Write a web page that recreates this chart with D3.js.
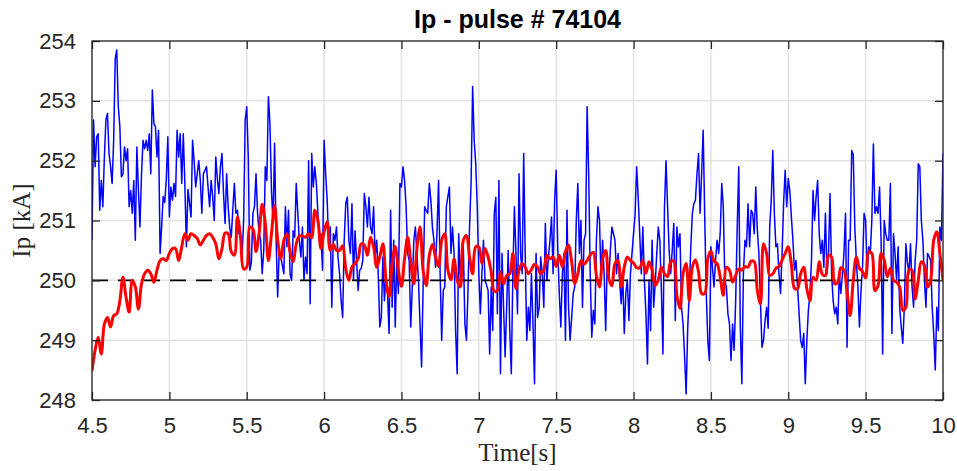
<!DOCTYPE html>
<html>
<head>
<meta charset="utf-8">
<script src="https://cdn.jsdelivr.net/npm/d3@7"></script>
<style>
  body { margin: 0; background: #ffffff; }
  #chart svg { display: block; }
</style>
</head>
<body>
<div id="chart"></div>
<script>
// Ip - pulse # 74104 : measured plasma current vs filtered current

// sampling of both traces (s)
var tStart = 4.5;
var blueStep = 0.01;
var redStep = 0.02;

// measured Ip [kA] (blue), one value every 10 ms
var ipMeasured = [
  // 4.50 - 5.11
  250.67, 252.68, 251.9, 252.4, 252.45, 251.17, 251.67, 251.23, 252.06, 252.68,
  252.79, 252.12, 251.9, 251.62, 252.34, 253.7, 253.85, 252.9, 252.57, 251.73,
  251.78, 252.23, 252.0, 252.2, 251.23, 251.5, 251.12, 251.67, 250.67, 252.23,
  251.5, 250.89, 251.78, 252.34, 252.2, 252.34, 252.17, 252.45, 251.78, 253.18,
  252.62, 252.57, 252.06, 252.51, 250.45, 250.89, 251.4, 251.3, 251.67, 252.4,
  251.06, 251.56, 251.34, 251.62, 251.4, 252.51, 252.06, 252.45, 251.62, 252.45,
  251.62, 250.56,
  // 5.12 - 5.74
  251.52, 251.3, 251.06, 252.34, 252.0, 251.56, 251.78, 252.0, 251.67, 251.12,
  251.78, 251.84, 251.9, 251.56, 251.23, 251.67, 251.4, 251.0, 252.06, 251.7,
  251.45, 251.9, 252.12, 251.45, 250.95, 251.78, 251.23, 250.89, 250.72, 251.17,
  251.62, 251.12, 251.17, 250.78, 250.78, 250.39, 251.0, 252.68, 252.9, 252.06,
  250.17, 250.3, 251.12, 251.23, 251.78, 251.12, 250.8, 250.67, 250.11, 250.5,
  251.9, 251.67, 253.07, 252.62, 251.5, 250.95, 252.29, 250.67, 249.72, 250.5,
  250.39, 250.25, 250.11,
  // 5.75 - 6.37
  251.23, 250.56, 251.17, 250.11, 250.0, 250.83, 250.72, 251.62, 251.12, 250.67,
  250.39, 250.89, 250.0, 250.39, 250.11, 252.0, 249.61, 252.12, 251.56, 251.9,
  251.62, 251.12, 250.67, 250.78, 250.17, 252.34, 251.78, 251.34, 250.56, 250.89,
  249.55, 250.78, 250.67, 250.89, 250.39, 250.11, 249.66, 249.38, 250.67, 251.28,
  251.39, 250.67, 250.45, 251.28, 250.0, 250.83, 250.33, 249.83, 250.17, 250.2,
  250.33, 251.45, 251.23, 250.89, 251.39, 250.89, 250.78, 251.23, 250.39, 250.67,
  250.11, 249.22, 249.38,
  // 6.38 - 6.99
  250.39, 249.66, 250.11, 249.78, 249.11, 251.17, 249.55, 250.67, 249.22, 250.39,
  249.78, 251.62, 251.56, 251.9, 251.67, 251.23, 250.45, 250.33, 249.22, 249.89,
  250.67, 250.89, 250.45, 250.0, 249.27, 248.55, 249.89, 251.23, 251.17, 251.12,
  251.62, 251.34, 250.89, 250.67, 250.22, 250.83, 251.67, 250.11, 249.0, 249.83,
  249.89, 251.23, 251.4, 251.56, 250.45, 250.89, 250.45, 249.16, 248.44, 250.78,
  250.0, 250.45, 250.56, 249.27, 249.0, 249.83, 250.89, 251.62, 253.24, 252.34,
  251.95, 251.23,
  // 7.00 - 7.62
  250.11, 249.44, 250.11, 250.67, 250.0, 249.92, 249.83, 248.77, 249.89, 249.16,
  251.12, 251.39, 249.44, 251.67, 248.44, 250.45, 249.55, 248.72, 249.55, 250.5,
  249.16, 248.44, 250.11, 251.23, 250.45, 249.44, 251.78, 250.45, 250.11, 252.12,
  250.39, 249.0, 249.55, 249.16, 250.11, 249.27, 248.27, 250.45, 249.38, 249.55,
  250.39, 250.11, 249.55, 250.95, 250.0, 250.39, 250.67, 251.06, 250.11, 251.34,
  251.84, 250.56, 249.78, 249.22, 250.11, 250.45, 249.0, 251.17, 249.55, 249.0,
  249.38, 249.78, 249.89,
  // 7.63 - 8.25
  251.0, 251.62, 250.45, 251.0, 249.55, 250.67, 250.78, 252.9, 251.78, 250.11,
  249.05, 249.5, 249.27, 250.67, 251.23, 251.0, 250.0, 250.67, 250.11, 249.16,
  250.33, 250.0, 250.5, 250.89, 250.78, 250.67, 250.11, 250.45, 250.0, 249.61,
  250.11, 249.11, 249.78, 250.0, 249.33, 250.11, 250.45, 250.78, 251.1, 251.9,
  251.39, 250.78, 250.11, 250.89, 250.0, 249.44, 248.6, 250.0, 249.16, 250.67,
  249.55, 249.94, 250.45, 250.89, 250.67, 249.83, 248.77, 251.23, 252.0, 251.23,
  250.5, 250.11, 250.5,
  // 8.26 - 8.87
  250.95, 249.33, 250.89, 250.56, 250.78, 249.55, 249.27, 248.72, 248.1, 249.2,
  249.78, 250.56, 251.12, 251.28, 251.34, 251.78, 252.12, 251.12, 251.78, 252.51,
  251.06, 249.78, 249.0, 248.66, 250.56, 250.22, 249.89, 250.33, 250.67, 250.45,
  250.78, 251.62, 251.23, 250.0, 249.89, 249.44, 249.27, 248.66, 249.27, 248.83,
  249.66, 250.89, 251.9, 249.22, 248.27, 250.11, 250.67, 250.56, 251.28, 250.56,
  251.17, 251.12, 250.78, 251.56, 250.84, 250.45, 249.66, 248.88, 249.0, 249.33,
  249.55, 249.2,
  // 8.88 - 9.50
  250.89, 251.34, 252.17, 251.12, 250.56, 250.61, 250.11, 249.78, 250.45, 251.3,
  251.84, 251.23, 251.7, 251.5, 251.06, 250.67, 250.17, 250.33, 249.89, 249.44,
  249.0, 248.88, 249.11, 248.27, 249.0, 249.5, 249.78, 250.33, 251.5, 251.0,
  251.4, 251.67, 250.78, 250.45, 250.67, 250.22, 251.12, 250.11, 250.45, 251.45,
  250.11, 249.66, 249.44, 249.55, 249.27, 250.11, 249.78, 250.11, 250.45, 251.12,
  248.88, 250.67, 250.67, 252.17, 252.1, 250.89, 250.33, 249.89, 249.22, 249.83,
  250.22, 251.12, 251.0,
  // 9.51 - 10.00
  250.11, 250.56, 250.45, 251.0, 252.28, 251.12, 251.23, 251.12, 251.56, 250.67,
  248.77, 251.0, 250.78, 250.67, 250.67, 251.62, 249.11, 250.78, 250.45, 250.0,
  250.56, 249.55, 249.22, 248.95, 249.55, 250.61, 250.3, 250.11, 250.61, 249.89,
  249.55, 250.33, 250.67, 251.95, 251.9, 251.0, 250.67, 250.0, 249.55, 250.45,
  250.4, 250.33, 249.55, 249.11, 248.5, 249.55, 249.16, 250.89, 250.67, 252.12
];

// filtered Ip [kA] (red), one value every 20 ms
var ipFiltered = [
  248.49, 248.83, 249.05, 248.77, 249.27, 249.38, 249.22, 249.41, 249.44, 249.66,
  250.05, 249.72, 249.47, 250.0, 249.89, 249.52, 249.94, 250.11, 250.17, 250.11,
  249.97, 250.17, 250.33, 250.36, 250.33, 250.45, 250.53, 250.53, 250.33, 250.56,
  250.78, 250.67,
  250.78, 250.75, 250.7, 250.59, 250.67, 250.75, 250.78, 250.72, 250.61, 250.36,
  250.53, 250.79, 250.78, 250.48, 250.42, 251.06, 250.72, 250.19, 250.22, 250.89,
  250.86, 250.48, 250.78, 251.27, 250.95, 250.33, 250.78, 251.25, 250.67, 250.36, 250.67,
  250.78, 250.48, 250.31, 250.61, 250.74, 250.74, 250.72, 250.78, 250.71, 251.17,
  251.0, 250.53, 250.81, 250.98, 250.5, 250.6, 250.5, 250.5, 250.58, 250.19,
  250.0, 250.22, 250.28, 250.36, 250.61, 250.59, 250.42, 250.72, 250.56, 250.22, 250.39,
  250.61, 250.0, 249.73, 250.28, 250.56, 250.17, 249.9, 250.36, 250.72, 250.31,
  249.94, 250.53, 250.89, 250.17, 249.91, 250.42, 250.6, 250.39, 250.23, 250.67,
  250.78, 250.17, 250.01, 250.36, 250.0, 249.89, 250.67, 250.75, 250.39, 250.11, 250.56,
  250.56, 250.28, 250.53, 250.39, 250.14, 249.82, 249.83, 250.14, 249.94, 250.08,
  250.11, 250.45, 249.86, 250.17, 250.28, 250.22, 250.11, 250.18, 250.27, 250.22,
  250.11, 250.17, 250.42, 250.36, 250.39, 250.23, 250.42, 250.22, 250.48, 250.59,
  250.31, 249.94,
  250.11, 250.33, 250.27, 250.33, 250.42, 250.47, 250.08, 249.89, 250.36, 250.5,
  250.03, 249.91, 250.28, 250.33, 249.89, 250.22, 250.39, 250.33, 250.29, 250.21,
  250.21, 250.33, 250.12, 250.31, 250.17, 249.91, 250.01, 250.22, 250.11, 250.06, 250.31,
  250.32, 249.75, 249.53, 250.11, 250.28, 249.66, 250.22, 250.34, 250.14, 249.78,
  249.78, 250.36, 250.49, 250.32, 250.28, 250.05, 249.75, 250.22, 250.17, 249.97,
  250.08, 250.19, 250.17, 250.23, 250.22, 250.32, 250.31, 249.83, 249.61, 250.61, 250.45,
  250.08, 250.11, 250.2, 250.23, 250.34, 250.45, 250.56, 250.27, 249.87, 249.86,
  250.11, 250.22, 249.86, 249.66, 250.05, 250.0, 250.31, 250.1, 250.08, 250.42,
  250.39, 249.94, 249.97, 250.21, 250.17, 249.8, 249.41, 250.0, 250.39, 250.2,
  250.15, 250.04,
  250.48, 250.45, 249.83, 249.91, 250.45, 250.34, 250.06, 250.2, 250.0, 249.97,
  249.89, 249.5, 249.55, 250.17, 250.17, 249.69, 250.0, 250.31, 250.25, 249.89,
  250.0, 250.67, 250.81, 250.45, 250.0
];

// reference current (dashed)
var ipReference = 250;

// axes
var xDomain = [4.5, 10];
var yDomain = [248, 254];
var xTicks = [4.5, 5, 5.5, 6, 6.5, 7, 7.5, 8, 8.5, 9, 9.5, 10];
var yTicks = [248, 249, 250, 251, 252, 253, 254];

var titleText = "Ip - pulse # 74104";
var xLabelText = "Time[s]";
var yLabelText = "Ip [kA]";

// global variables
var width = 957;
var height = 471;
var margin = { top: 41, right: 14, bottom: 71, left: 92 };
var innerW = width - margin.left - margin.right;
var innerH = height - margin.top - margin.bottom;
var tickLen = 8;
var axisColor = "#262626";

var svg, plot, x, y;

gen_chart();

/**************************
 * gen_chart()
 *  - MATLAB style line plot
 *************************/
function gen_chart() {

    svg = d3.select("#chart")
            .append("svg")
            .attr("width", width)
            .attr("height", height);

    x = d3.scaleLinear().domain(xDomain).range([0, innerW]);
    y = d3.scaleLinear().domain(yDomain).range([innerH, 0]);

    plot = svg.append("g")
              .attr("transform", "translate(" + margin.left + "," + margin.top + ")");

    // grid
    plot.append("g")
        .selectAll("line")
        .data(xTicks)
        .enter()
        .append("line")
        .attr("x1", function(d) { return x(d); })
        .attr("x2", function(d) { return x(d); })
        .attr("y1", 0)
        .attr("y2", innerH)
        .attr("stroke", "#e3e3e3")
        .attr("stroke-width", 1.5);

    plot.append("g")
        .selectAll("line")
        .data(yTicks)
        .enter()
        .append("line")
        .attr("x1", 0)
        .attr("x2", innerW)
        .attr("y1", function(d) { return y(d); })
        .attr("y2", function(d) { return y(d); })
        .attr("stroke", "#e3e3e3")
        .attr("stroke-width", 1.5);

    // clip for data
    svg.append("defs")
       .append("clipPath")
       .attr("id", "plot-clip")
       .append("rect")
       .attr("width", innerW)
       .attr("height", innerH);

    var lines = plot.append("g").attr("clip-path", "url(#plot-clip)");

    var blueData = ipMeasured.map(function(v, i) { return { t: tStart + i * blueStep, v: v }; });
    var redData = ipFiltered.map(function(v, i) { return { t: tStart + i * redStep, v: v }; });

    var line = d3.line()
                 .x(function(d) { return x(d.t); })
                 .y(function(d) { return y(d.v); });

    lines.append("path")
         .datum(blueData)
         .attr("d", line)
         .attr("fill", "none")
         .attr("stroke", "#0000ff")
         .attr("stroke-width", 1.5)
         .attr("stroke-linejoin", "round");

    // dashed reference
    lines.append("line")
         .attr("x1", 0)
         .attr("x2", innerW)
         .attr("y1", y(ipReference))
         .attr("y2", y(ipReference))
         .attr("stroke", "#000000")
         .attr("stroke-width", 1.6)
         .attr("stroke-dasharray", "16,10");

    lines.append("path")
         .datum(redData)
         .attr("d", line.curve(d3.curveCatmullRom))
         .attr("fill", "none")
         .attr("stroke", "#ff0000")
         .attr("stroke-width", 3)
         .attr("stroke-linejoin", "round");

    // axes: ticks inside on all four sides
    var fontTicks = "22px 'Liberation Sans', Arial, Helvetica, sans-serif";
    var fmt = function(d) { return String(d); };

    var xBottom = plot.append("g")
        .attr("transform", "translate(0," + innerH + ")")
        .call(d3.axisBottom(x).tickValues(xTicks).tickFormat(fmt).tickSizeInner(-tickLen).tickSizeOuter(0).tickPadding(tickLen + 9));
    var xTop = plot.append("g")
        .call(d3.axisTop(x).tickValues(xTicks).tickSizeInner(-tickLen).tickSizeOuter(0).tickFormat(""));
    var yLeft = plot.append("g")
        .call(d3.axisLeft(y).tickValues(yTicks).tickFormat(fmt).tickSizeInner(-tickLen).tickSizeOuter(0).tickPadding(tickLen + 8));
    var yRight = plot.append("g")
        .attr("transform", "translate(" + innerW + ",0)")
        .call(d3.axisRight(y).tickValues(yTicks).tickSizeInner(-tickLen).tickSizeOuter(0).tickFormat(""));

    [xBottom, xTop, yLeft, yRight].forEach(function(g) {
        g.select(".domain").remove();
        g.selectAll(".tick line").attr("stroke", axisColor).attr("stroke-width", 1.3);
        g.selectAll(".tick text")
         .attr("fill", axisColor)
         .style("font", fontTicks);
    });

    // box
    plot.append("rect")
        .attr("width", innerW)
        .attr("height", innerH)
        .attr("fill", "none")
        .attr("stroke", axisColor)
        .attr("stroke-width", 1.3);

    // title
    svg.append("text")
       .attr("x", margin.left + innerW / 2)
       .attr("y", 28)
       .attr("text-anchor", "middle")
       .attr("fill", "#000000")
       .style("font", "bold 25px 'Liberation Sans', Arial, Helvetica, sans-serif")
       .text(titleText);

    // axis labels (latex style)
    svg.append("text")
       .attr("x", margin.left + innerW / 2)
       .attr("y", 461)
       .attr("text-anchor", "middle")
       .attr("fill", axisColor)
       .style("font", "25px 'Liberation Serif', 'Times New Roman', serif")
       .text(xLabelText);

    svg.append("text")
       .attr("transform", "translate(30," + (margin.top + innerH / 2) + ") rotate(-90)")
       .attr("text-anchor", "middle")
       .attr("fill", axisColor)
       .style("font", "25px 'Liberation Serif', 'Times New Roman', serif")
       .text(yLabelText);
}
</script>
</body>
</html>
